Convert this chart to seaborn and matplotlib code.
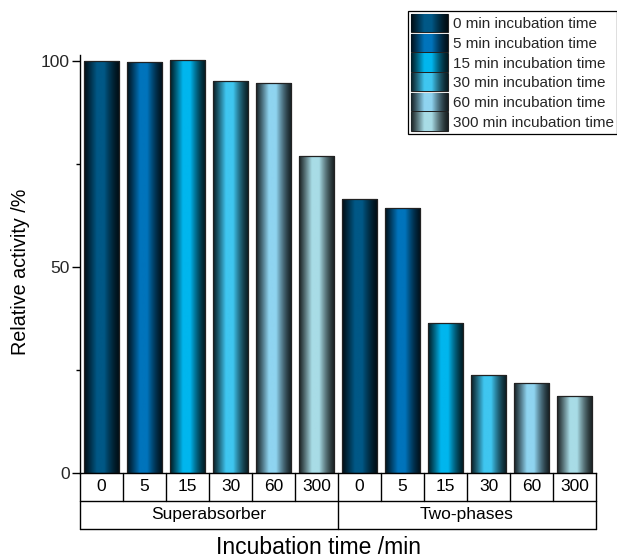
import numpy as np
import pandas as pd
import matplotlib
matplotlib.use("Agg")
import matplotlib.pyplot as plt
import matplotlib.colors as mcolors
from matplotlib.patches import Rectangle
from matplotlib.transforms import blended_transform_factory
import seaborn as sns

# ---- data ----
groups = ["Superabsorber", "Two-phases"]
times = ["0", "5", "15", "30", "60", "300"]
superabsorber = [100.0, 99.6, 100.3, 95.0, 94.7, 76.9]
two_phases = [66.4, 64.2, 36.3, 23.8, 21.7, 18.5]
legend_labels = [f"{t} min incubation time" for t in times]
center_colors = ["#005886", "#0074bc", "#00b6ee", "#3fc6f0", "#8fd4f0", "#a8dce6"]

sns.set_theme(style="white")
plt.rcParams["font.family"] = ["Liberation Sans", "DejaVu Sans"]

rows = []
for gi, (g, vals) in enumerate(zip(groups, [superabsorber, two_phases])):
    for ti, (t, v) in enumerate(zip(times, vals)):
        rows.append({"pos": gi * 6 + ti, "group": g, "time": t, "activity": v})
df = pd.DataFrame(rows)

W, H = 617, 557
fig = plt.figure(figsize=(W / 100, H / 100), dpi=100)
ax_left, ax_right, ax_top, ax_bot = 80, 596, 55, 472.7
ax = fig.add_axes([ax_left / W, 1 - ax_bot / H, (ax_right - ax_left) / W, (ax_bot - ax_top) / H])

palette = dict(zip(times, center_colors))
sns.barplot(data=df, x="pos", y="activity", hue="time", hue_order=times,
            palette=palette, dodge=False, width=0.82, legend=False,
            edgecolor="#222222", linewidth=0.9, ax=ax, order=list(range(12)))


def profile(n=256):
    t = np.linspace(0, 1, n)
    f = np.where(t < 0.36, (t / 0.36) ** 1.1,
                 np.where(t < 0.56, 1.0, ((1 - t) / 0.44) ** 1.4))
    return f


def grad_img(color, n=256):
    c = np.array(mcolors.to_rgb(color))
    dark = c * 0.15
    f = profile(n)[:, None]
    img = dark + (c - dark) * f
    return img[None, :, :]


for p in list(ax.patches):
    h = p.get_height()
    if h <= 0:
        continue
    x0 = p.get_x()
    w = p.get_width()
    idx = int(round(x0 + w / 2)) % 6
    im = ax.imshow(grad_img(center_colors[idx]), extent=(x0, x0 + w, 0, h),
                   aspect="auto", interpolation="bilinear", zorder=0.95)
    im.set_clip_path(p)
    p.set_facecolor((0, 0, 0, 0))
    p.set_zorder(1.1)

ax.set_xlim(-0.5, 11.5)
ax.set_ylim(0, 101.4)
ax.set_xlabel("")
ax.set_ylabel("")
ax.set_xticks([])
ax.set_yticks([0, 50, 100])
ax.set_yticks([25, 75], minor=True)
ax.tick_params(axis="y", which="major", direction="out", length=5.5, width=1.0,
               labelsize=12.5, pad=2, color="black", left=True)
ax.tick_params(axis="y", which="minor", direction="out", length=3, width=1.0,
               color="black", left=True)
for s in ["top", "right"]:
    ax.spines[s].set_visible(False)
for s in ["left", "bottom"]:
    ax.spines[s].set_color("black")
    ax.spines[s].set_linewidth(1.0)

# ---- category table below the axis ----
tr = blended_transform_factory(ax.transData, ax.transAxes)
r1 = -(500.7 - ax_bot) / (ax_bot - ax_top)
r2 = -(529 - ax_bot) / (ax_bot - ax_top)
lkw = dict(color="black", lw=1.0, transform=tr, clip_on=False)
ax.plot([-0.5, 11.5], [r1, r1], **lkw)
ax.plot([-0.5, 11.5], [r2, r2], **lkw)
for i in range(13):
    xb = -0.5 + i
    ax.plot([xb, xb], [0, r1], **lkw)
for xb in [-0.5, 5.5, 11.5]:
    ax.plot([xb, xb], [r1, r2], **lkw)
for i in range(12):
    ax.text(i, r1 / 2, times[i % 6], transform=tr, ha="center", va="center",
            fontsize=12.5, color="black")
for gi, g in enumerate(groups):
    ax.text(gi * 6 + 2.5, (r1 + r2) / 2, g, transform=tr, ha="center", va="center",
            fontsize=12.5, color="black")

fig.text(319 / W, 1 - 547 / H, "Incubation time /min", ha="center", va="center",
         fontsize=16.5, color="black")
fig.text(21 / W, 1 - 272 / H, "Relative activity /%", ha="center", va="center",
         rotation=90, fontsize=14.2, color="black")

# ---- legend ----
handles = [Rectangle((0, 0), 1, 1, facecolor=c, edgecolor="#222222", lw=0.8)
           for c in center_colors]
leg = fig.legend(handles, legend_labels, loc="upper right",
                 bbox_to_anchor=(1.0, 1 - 11 / H), bbox_transform=fig.transFigure,
                 fontsize=11.0, frameon=True, fancybox=False, framealpha=1,
                 edgecolor="black", borderpad=0.2, labelspacing=0.1,
                 handlelength=2.4, handleheight=1.45, handletextpad=0.35,
                 borderaxespad=0)
leg.get_frame().set_linewidth(0.9)

fig.canvas.draw()
renderer = fig.canvas.get_renderer()
for hnd, c in zip(leg.legend_handles, center_colors):
    bb = hnd.get_window_extent(renderer).transformed(fig.transFigure.inverted())
    hax = fig.add_axes([bb.x0, bb.y0, bb.width, bb.height], zorder=10)
    hax.imshow(grad_img(c), aspect="auto", interpolation="bilinear")
    hax.set_axis_off()

fig.savefig("out.png", dpi=100)
